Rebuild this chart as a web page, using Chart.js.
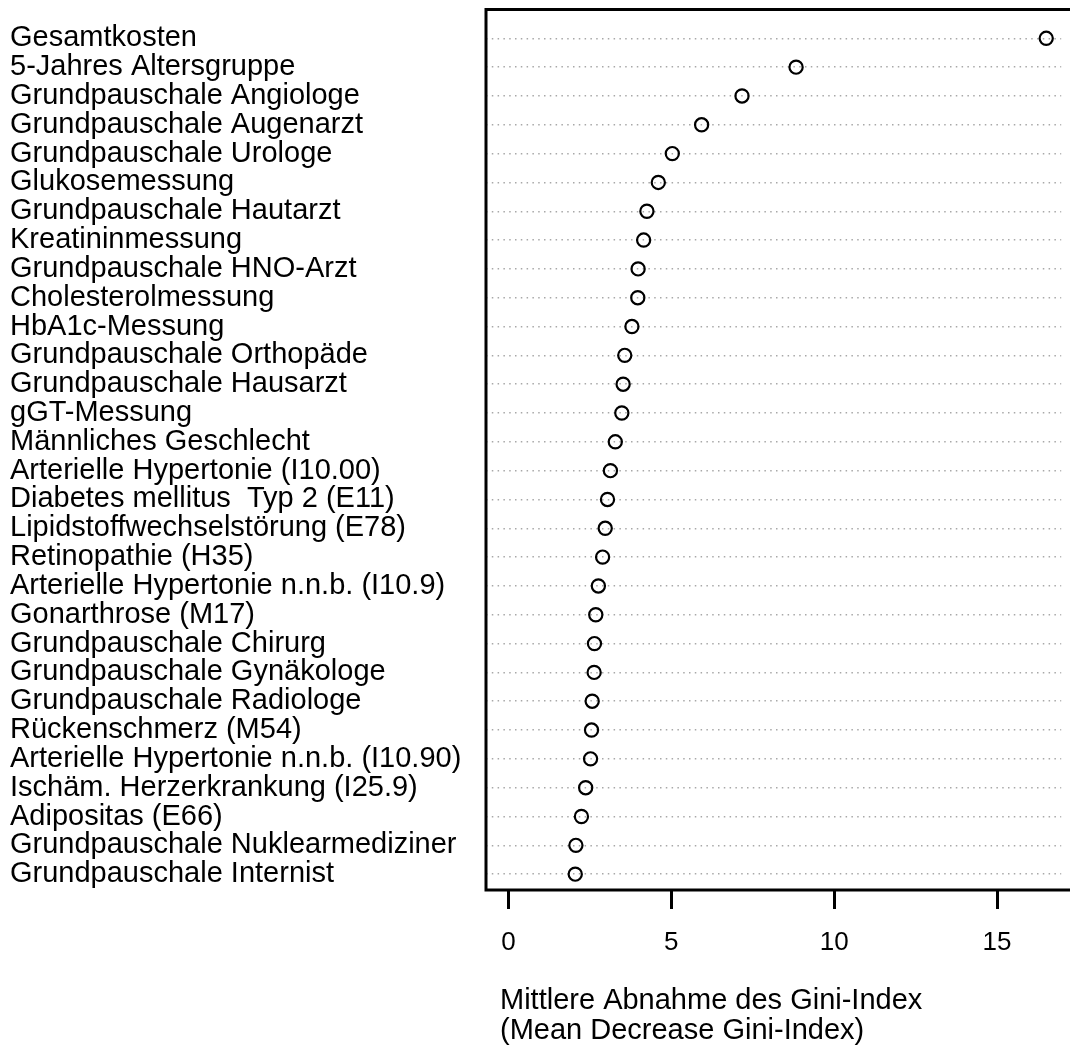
<!DOCTYPE html>
<html>
<head>
<meta charset="utf-8">
<script src="https://cdn.jsdelivr.net/npm/chart.js@4.4.1/dist/chart.umd.min.js"></script>
<style>
    body { margin: 0; background: #fff; }
    #wrap { width: 1070px; height: 1050px; }
</style>
</head>
<body>
<div id="wrap"><canvas id="myChart"></canvas></div>
<script>
const categories = [
    'Gesamtkosten',
    '5-Jahres Altersgruppe',
    'Grundpauschale Angiologe',
    'Grundpauschale Augenarzt',
    'Grundpauschale Urologe',
    'Glukosemessung',
    'Grundpauschale Hautarzt',
    'Kreatininmessung',
    'Grundpauschale HNO-Arzt',
    'Cholesterolmessung',
    'HbA1c-Messung',
    'Grundpauschale Orthopäde',
    'Grundpauschale Hausarzt',
    'gGT-Messung',
    'Männliches Geschlecht',
    'Arterielle Hypertonie (I10.00)',
    'Diabetes mellitus  Typ 2 (E11)',
    'Lipidstoffwechselstörung (E78)',
    'Retinopathie (H35)',
    'Arterielle Hypertonie n.n.b. (I10.9)',
    'Gonarthrose (M17)',
    'Grundpauschale Chirurg',
    'Grundpauschale Gynäkologe',
    'Grundpauschale Radiologe',
    'Rückenschmerz (M54)',
    'Arterielle Hypertonie n.n.b. (I10.90)',
    'Ischäm. Herzerkrankung (I25.9)',
    'Adipositas (E66)',
    'Grundpauschale Nuklearmediziner',
    'Grundpauschale Internist'
];
const giniValues = [
    16.51, 8.83, 7.17, 5.93, 5.03, 4.60, 4.25, 4.15, 3.98, 3.97,
    3.79, 3.57, 3.52, 3.48, 3.28, 3.13, 3.04, 2.97, 2.89, 2.76,
    2.68, 2.64, 2.63, 2.57, 2.55, 2.52, 2.37, 2.24, 2.07, 2.05
];
const xTicks = [0, 5, 10, 15];
const titleLines = ['Mittlere Abnahme des Gini-Index', '(Mean Decrease Gini-Index)'];

const fontFamily = '"Liberation Sans", Arial, Helvetica, sans-serif';

// box around the plot region and the two-line axis title
const boxPlugin = {
    id: 'boxPlugin',
    afterDraw(chart) {
        const ctx = chart.ctx;
        const a = chart.chartArea;
        ctx.save();
        ctx.strokeStyle = '#000';
        ctx.lineWidth = 3;
        ctx.strokeRect(a.left, a.top, a.right - a.left + 20, a.bottom - a.top);
        ctx.fillStyle = '#000';
        ctx.font = '29px ' + fontFamily;
        ctx.textAlign = 'left';
        ctx.textBaseline = 'middle';
        ctx.fillText(titleLines[0], 500, 1001);
        ctx.fillText(titleLines[1], 500, 1031);
        ctx.restore();
    }
};

const ctx = document.getElementById('myChart');
const myChart = new Chart(ctx, {
    type: 'scatter',
    data: {
        datasets: [{
            data: giniValues.map((v, i) => ({ x: v, y: i })),
            pointStyle: 'circle',
            pointRadius: 6.6,
            pointHoverRadius: 6.6,
            pointBorderWidth: 2.2,
            pointBorderColor: '#000',
            pointBackgroundColor: 'rgba(0,0,0,0)',
            showLine: false
        }]
    },
    options: {
        responsive: true,
        maintainAspectRatio: false,
        animation: false,
        layout: { padding: { left: 10, top: 9.5, right: 0, bottom: 0 } },
        plugins: {
            legend: { display: false },
            tooltip: { enabled: false }
        },
        scales: {
            x: {
                type: 'linear',
                position: 'bottom',
                min: -0.69,
                max: 16.97,
                afterBuildTicks: (scale) => {
                    scale.ticks = xTicks.map(v => ({ value: v }));
                },
                afterFit: (scale) => {
                    scale.height = 160;
                    scale.paddingLeft = 0;
                    scale.paddingRight = 0;
                },
                grid: {
                    drawOnChartArea: false,
                    drawTicks: true,
                    tickLength: 19,
                    color: '#000',
                    lineWidth: 3
                },
                border: { display: false },
                ticks: {
                    color: '#000',
                    padding: 18,
                    maxRotation: 0,
                    font: { family: fontFamily, size: 26 },
                    callback: (v) => String(v)
                }
            },
            y: {
                type: 'linear',
                reverse: true,
                min: -1,
                max: 29.55,
                afterBuildTicks: (scale) => {
                    scale.ticks = categories.map((c, i) => ({ value: i }));
                },
                afterFit: (scale) => {
                    scale.width = 476;
                    scale.paddingTop = 0;
                    scale.paddingBottom = 0;
                },
                grid: {
                    drawTicks: false,
                    color: '#a8a8a8',
                    lineWidth: 1.5
                },
                border: { display: false, dash: [1.5, 4.3] },
                ticks: {
                    color: '#000',
                    crossAlign: 'far',
                    autoSkip: false,
                    font: { family: fontFamily, size: 29 },
                    callback: (v) => categories[v]
                }
            }
        }
    },
    plugins: [boxPlugin]
});
</script>
</body>
</html>
